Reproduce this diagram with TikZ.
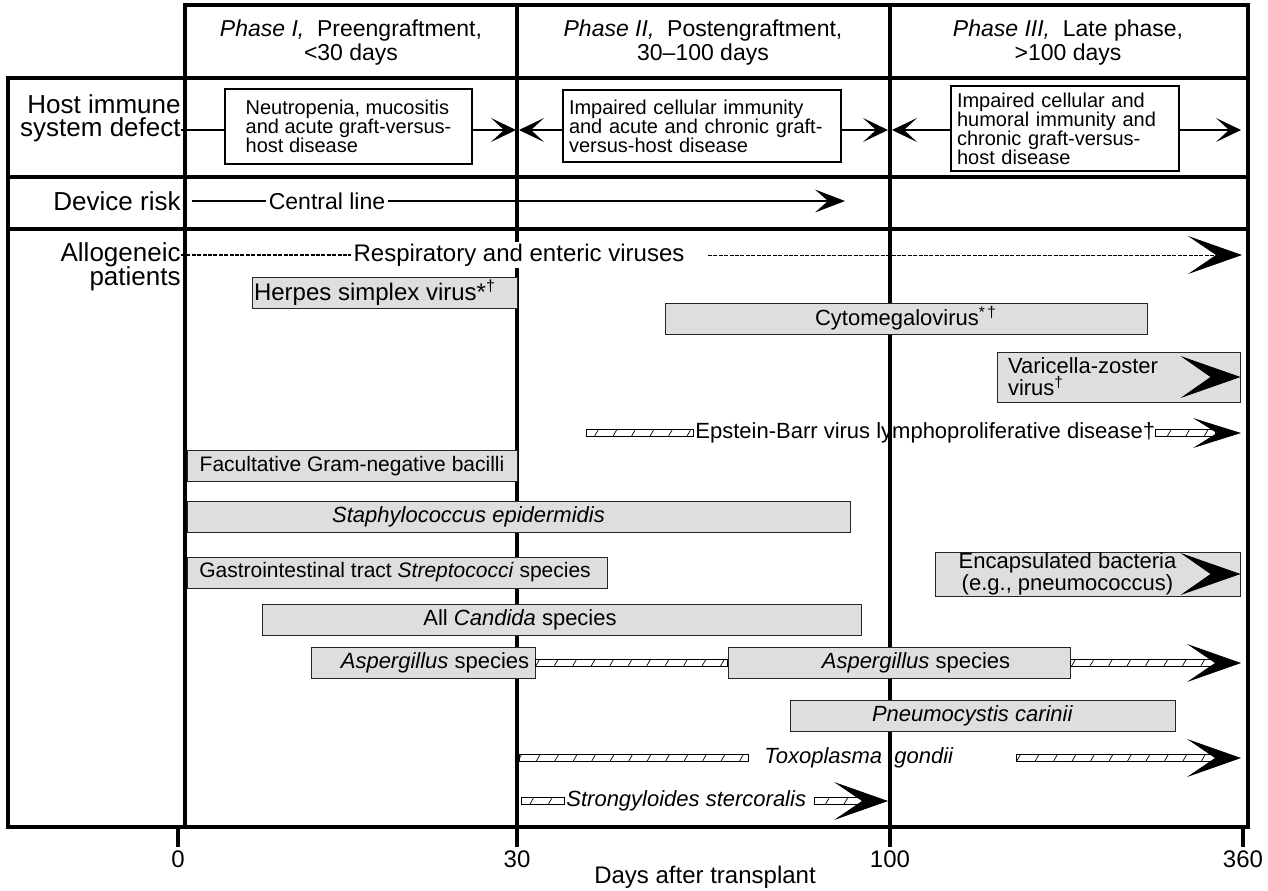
\documentclass[tikz,border=0pt]{standalone}
\usepackage{fontspec}
\setmainfont{Liberation Sans}
\usetikzlibrary{arrows.meta,calc,patterns.meta}

\tikzset{
  frame/.style={line width=2.2pt, line cap=rect},
  hdr/.style={align=center, font=\fontsize{11.5}{12}\selectfont},
  rowlbl/.style={anchor=east, inner sep=0pt, font=\fontsize{13}{13}\selectfont},
  lbl/.style={inner sep=1pt, font=\fontsize{11}{11}\selectfont},
  defbox/.style={draw, line width=0.6pt, align=left, inner sep=3pt, font=\fontsize{10}{9.5}\selectfont},
  greybox/.style={draw=black!85, line width=0.5pt, fill=black!13, inner sep=0pt, minimum height=15.5pt},
  hatchfill/.style={draw, line width=0.4pt, preaction={fill=white}, pattern={Lines[angle=60,distance=8pt,line width=0.35pt]}},
  dotline/.style={line width=1pt, dash pattern=on 2pt off 0.7pt},
  smalltip/.style={-{Stealth[length=12.5pt,width=12pt,inset=6.5pt]}, line width=0.6pt},
  devtip/.style={-{Stealth[length=15pt,width=11.5pt,inset=6.5pt]}, line width=0.6pt},
  medtip/.style={-{Stealth[length=24pt,width=15pt,inset=12pt]}, line width=0.4pt},
  bigtip/.style={-{Stealth[length=27pt,width=19pt,inset=14pt]}, line width=0.4pt},
  boxtip/.style={-{Stealth[length=30pt,width=21pt,inset=15pt]}, line width=0.4pt},
}

% hatched bar between two points
\newcommand{\hatchbar}[2]{\draw[hatchfill] ($(#1)+(0,-3.5)$) rectangle ($(#2)+(0,3.5)$);}

\begin{document}
\begin{tikzpicture}[x=0.5pt,y=-0.5pt]
  \useasboundingbox (0,0) rectangle (1268,890);

  % grid of the table
  \draw[frame] (185,5) -- (1248,5);
  \draw[frame] (8,78) -- (1248,78);
  \draw[frame] (8,177) -- (1248,177);
  \draw[frame] (8,229) -- (1248,229);
  \draw[frame] (8,827) -- (1248,827);
  \draw[frame] (8,78) -- (8,827);
  \draw[frame] (185,5) -- (185,827);
  \draw[frame] (517,5) -- (517,845);
  \draw[frame] (890,5) -- (890,845);
  \draw[frame] (1248,5) -- (1248,827);
  \draw[frame] (178,827) -- (178,845);   % tick 0
  \draw[frame] (1243,827) -- (1243,845); % tick 360

  % phases
  \node[hdr] (ph1) at (351,43) {\textit{Phase I,}\ \ Preengraftment,\\<30 days};
  \node[hdr] (ph2) at (703,43) {\textit{Phase II,}\ \ Postengraftment,\\30--100 days};
  \node[hdr] (ph3) at (1068,43) {\textit{Phase III,}\ \ Late phase,\\>100 days};

  % row labels
  \node[rowlbl] (host) at (181,104) {Host immune};
  \node[rowlbl] (defect) at (181,130) {system defect};
  \node[rowlbl] (dev) at (181,201) {Device risk};
  \node[rowlbl] (allo) at (181,255) {Allogeneic};
  \node[rowlbl] (pat) at (181,279) {patients};

  % host immune system defect
  \node[defbox, minimum width=123.5pt, minimum height=37.5pt] (box1) at (348.5,126.5)
    {Neutropenia, mucositis\\and acute graft-versus-\\host disease};
  \node[defbox, text width=133pt, minimum height=36pt] (box2) at (702,126)
    {Impaired cellular immunity\\and acute and chronic graft-\\versus-host disease};
  \node[defbox, text width=108pt, minimum height=42.5pt] (box3) at (1065,128.5)
    {Impaired cellular and\\humoral immunity and\\chronic graft-versus-\\host disease};
  \coordinate (h30) at (516,130);
  \coordinate (h30b) at (519,130);
  \coordinate (h100) at (888,130);
  \coordinate (h100b) at (892,130);
  \coordinate (h360) at (1241,130);
  \draw[line width=0.6pt] (defect.east) -- (box1.west |- defect.east);
  \draw[smalltip] (box1.east |- h30) -- (h30);
  \draw[smalltip] (box2.west |- h30b) -- (h30b);
  \draw[smalltip] (box2.east |- h100) -- (h100);
  \draw[smalltip] (box3.west |- h100b) -- (h100b);
  \draw[smalltip] (box3.east |- h360) -- (h360);

  % device risk
  \coordinate (dev0) at (192,201);
  \coordinate (dev1) at (845,201);
  \node[lbl, font=\fontsize{11.5}{11.5}\selectfont] (cline) at (327,201) {Central line};
  \draw[line width=0.6pt] (dev0) -- (cline.west);
  \draw[devtip] (cline.east) -- (dev1);

  % respiratory viruses
  \node[lbl, fill=white, font=\fontsize{12}{12}\selectfont] (resp) at (519,255) {Respiratory and enteric viruses};
  \coordinate (resp1) at (708,255);
  \coordinate (resp360) at (1242,255);
  \draw[dotline] (allo.east) -- (resp.west);
  \draw[dotline, bigtip] (resp1) -- (resp360);

  % grey bars
  \node[greybox, minimum width=132.5pt,
    label={[lbl,font=\fontsize{12}{12}\selectfont,xshift=-4.75pt]center:Herpes simplex virus*\textsuperscript{\dag}}] (hsv) at (384.5,293) {};
  \node[greybox, minimum width=241pt,
    label={[lbl]center:Cytomegalovirus\textsuperscript{*\,\dag}}] (cmv) at (906,318.5) {};
  \node[greybox, minimum width=121.5pt, minimum height=25pt,
    label={[lbl,align=left,xshift=-17.75pt]center:Varicella-zoster\\virus\textsuperscript{\dag}}] (vzv) at (1118.5,377) {};
  \draw[boxtip] ($(vzv.east)+(-2,0)$) -- (vzv.east);
  \node[greybox, minimum width=165pt,
    label={[lbl,font=\fontsize{10.5}{10.5}\selectfont]center:Facultative Gram-negative bacilli}] (gnb) at (352,466) {};
  \node[greybox, minimum width=331.5pt,
    label={[lbl,xshift=-25pt]center:\textit{Staphylococcus epidermidis}}] (staph) at (518.5,516.5) {};
  \node[greybox, minimum width=210pt,
    label={[lbl,font=\fontsize{10.5}{10.5}\selectfont,xshift=-1pt]center:Gastrointestinal tract \textit{Streptococci} species}] (gis) at (397,572.5) {};
  \node[greybox, minimum width=152.5pt, minimum height=22pt,
    label={[lbl,align=center,xshift=-10pt]center:Encapsulated bacteria\\(e.g., pneumococcus)}] (enc) at (1087.5,574) {};
  \draw[boxtip] ($(enc.east)+(-2,0)$) -- (enc.east);
  \node[greybox, minimum width=299.5pt,
    label={[lbl,xshift=-21pt]center:All \textit{Candida} species}] (cand) at (562,620) {};
  \node[greybox, minimum width=112pt,
    label={[lbl,xshift=6pt]center:\textit{Aspergillus} species}] (asp1) at (423,663) {};
  \node[greybox, minimum width=171pt,
    label={[lbl,xshift=8.5pt]center:\textit{Aspergillus} species}] (asp2) at (899,663) {};
  \node[greybox, minimum width=192.5pt,
    label={[lbl,xshift=-5pt]center:\textit{Pneumocystis carinii}}] (pcp) at (982.5,715.5) {};

  % Epstein-Barr
  \coordinate (ebv0) at (586,433);
  \node[lbl, anchor=west] (ebv) at (693,433) {Epstein-Barr virus lymphoproliferative disease\dag};
  \coordinate (ebv1) at (1155,433);
  \coordinate (ebv2) at (1215,433);
  \coordinate (ebv360) at (1241,433);
  \hatchbar{ebv0}{ebv.west}
  \hatchbar{ebv1}{ebv2}
  \draw[medtip] (ebv2) -- (ebv360);

  % Aspergillus
  \coordinate (asp3) at (1215,663);
  \coordinate (asp360) at (1241,663);
  \hatchbar{asp1.east}{asp2.west}
  \hatchbar{asp2.east}{asp3}
  \draw[bigtip] (asp3) -- (asp360);

  % Toxoplasma
  \coordinate (tox0) at (519,758);
  \coordinate (tox1) at (748,758);
  \node[lbl, anchor=west] (tox) at (762,758) {\itshape Toxoplasma\ \ gondii};
  \coordinate (tox2) at (1016,758);
  \coordinate (tox3) at (1215,758);
  \coordinate (tox360) at (1241,758);
  \hatchbar{tox0}{tox1}
  \hatchbar{tox2}{tox3}
  \draw[bigtip] (tox3) -- (tox360);

  % Strongyloides
  \coordinate (str0) at (521,801);
  \node[lbl, anchor=west] (str) at (564,801) {\itshape Strongyloides stercoralis};
  \coordinate (str1) at (814,801);
  \coordinate (str2) at (862,801);
  \coordinate (str100) at (888,801);
  \hatchbar{str0}{str.west}
  \hatchbar{str1}{str2}
  \draw[bigtip] (str2) -- (str100);

  % axis
  \node[lbl, font=\fontsize{12}{12}\selectfont] (t0) at (178,859) {0};
  \node[lbl, font=\fontsize{12}{12}\selectfont] (t30) at (517,859) {30};
  \node[lbl, font=\fontsize{12}{12}\selectfont] (t100) at (890,859) {100};
  \node[lbl, font=\fontsize{12}{12}\selectfont] (t360) at (1243,859) {360};
  \node[lbl, font=\fontsize{12}{12}\selectfont] (days) at (705,877) {Days after transplant};
\end{tikzpicture}
\end{document}
